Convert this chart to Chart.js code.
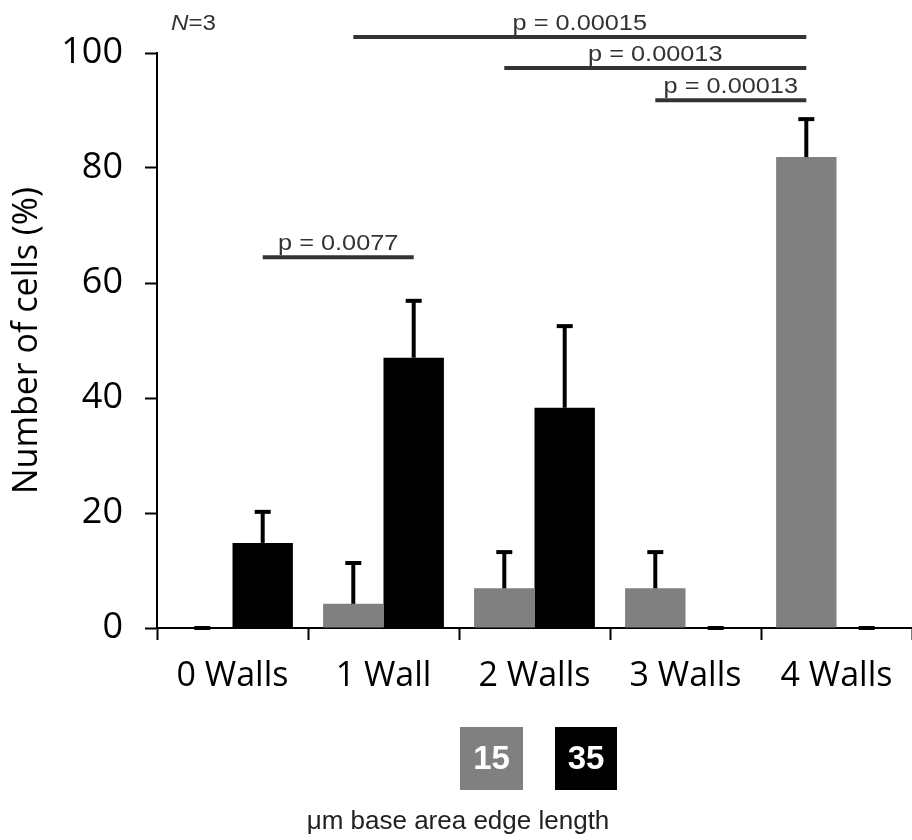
<!DOCTYPE html>
<html>
<head>
<meta charset="utf-8">
<script src="https://cdn.jsdelivr.net/npm/chart.js@4"></script>
<style>
  html, body { margin: 0; padding: 0; background: #fff; }
  #wrap { width: 912px; height: 840px; }
</style>
</head>
<body>
<div id="wrap"><canvas id="c" width="912" height="840"></canvas></div>
<script>
// ---- data ----
const categories = ['0 Walls', '1 Wall', '2 Walls', '3 Walls', '4 Walls'];
const seriesNames = ['15', '35'];
const gray15 = [0, 4.2, 6.9, 6.9, 81.9];
const gray15Err = [0, 7.1, 6.3, 6.3, 6.6];
const black35 = [14.8, 47.0, 38.3, 0, 0];
const black35Err = [5.4, 9.9, 14.2, 0, 0];
const yTicks = [0, 20, 40, 60, 80, 100];
const yTitle = 'Number of cells (%)';
const legendTitle = 'μm base area edge length';
const sampleNote = ['N', '=3'];
// significance brackets: [series, category] start -> end, level in % units, label
const sigLabels = ['p = 0.0077', 'p = 0.00015', 'p = 0.00013', 'p = 0.00013'];
const sigStart = [[1, 0], [0, 1], [0, 2], [0, 3]];
const sigEnd = [[1, 1], [0, 4], [0, 4], [0, 4]];
const sigLevel = [64.5, 102.8, 97.4, 91.8];

const seriesVals = [gray15, black35];
const seriesErrs = [gray15Err, black35Err];
const seriesColors = ['#808080', '#000000'];

const errorBars = {
  id: 'errorBars',
  afterDatasetsDraw(chart) {
    const ctx = chart.ctx, y = chart.scales.y;
    ctx.save();
    ctx.strokeStyle = '#000';
    ctx.lineWidth = 4;
    ctx.lineCap = 'butt';
    seriesVals.forEach((vals, di) => {
      const meta = chart.getDatasetMeta(di);
      meta.data.forEach((bar, i) => {
        const base = y.getPixelForValue(vals[i]);
        const top = y.getPixelForValue(vals[i] + seriesErrs[di][i]);
        if (top < base) {
          ctx.beginPath(); ctx.moveTo(bar.x, base); ctx.lineTo(bar.x, top); ctx.stroke();
        }
        ctx.beginPath(); ctx.moveTo(bar.x - 8, top); ctx.lineTo(bar.x + 8, top); ctx.stroke();
      });
    });
    ctx.restore();
  }
};

function stretchedText(ctx, txt, x, y, sx) {
  ctx.save();
  ctx.translate(x, y);
  ctx.scale(sx, 1);
  ctx.fillText(txt, 0, 0);
  ctx.restore();
}

const sigPlugin = {
  id: 'sigBrackets',
  afterDraw(chart) {
    const ctx = chart.ctx, y = chart.scales.y;
    ctx.save();
    ctx.strokeStyle = '#333';
    ctx.fillStyle = '#333';
    ctx.lineWidth = 4;
    ctx.font = '22px "Liberation Sans", Arial, sans-serif';
    ctx.textAlign = 'center';
    ctx.textBaseline = 'alphabetic';
    sigLabels.forEach((lab, k) => {
      const a = chart.getDatasetMeta(sigStart[k][0]).data[sigStart[k][1]];
      const b = chart.getDatasetMeta(sigEnd[k][0]).data[sigEnd[k][1]];
      const py = y.getPixelForValue(sigLevel[k]);
      ctx.beginPath(); ctx.moveTo(a.x, py); ctx.lineTo(b.x, py); ctx.stroke();
      stretchedText(ctx, lab, (a.x + b.x) / 2, py - 7, 1.15);
    });
    // N=3 note
    ctx.textAlign = 'left';
    ctx.font = 'italic 22px "Liberation Sans", Arial, sans-serif';
    const w = ctx.measureText(sampleNote[0]).width * 1.1;
    stretchedText(ctx, sampleNote[0], 171, 30, 1.1);
    ctx.font = '22px "Liberation Sans", Arial, sans-serif';
    stretchedText(ctx, sampleNote[1], 171 + w, 30, 1.1);
    ctx.restore();
  }
};

const legendPlugin = {
  id: 'boxLegend',
  afterDraw(chart) {
    const ctx = chart.ctx;
    ctx.save();
    const boxes = [[460, 727, 63, 63], [555, 727, 62, 63]];
    seriesNames.forEach((name, i) => {
      const [bx, by, bw, bh] = boxes[i];
      ctx.fillStyle = seriesColors[i];
      ctx.fillRect(bx, by, bw, bh);
      ctx.fillStyle = '#fff';
      ctx.font = 'bold 33px "Liberation Sans", Arial, sans-serif';
      ctx.textAlign = 'center';
      ctx.textBaseline = 'middle';
      ctx.fillText(name, bx + bw / 2, by + bh / 2 + 1);
    });
    ctx.fillStyle = '#222';
    ctx.font = '26px "Liberation Sans", Arial, sans-serif';
    ctx.textAlign = 'center';
    ctx.textBaseline = 'alphabetic';
    ctx.fillText(legendTitle, 458, 829);
    ctx.restore();
  }
};

new Chart(document.getElementById('c'), {
  type: 'bar',
  data: {
    labels: categories,
    datasets: seriesNames.map((n, i) => ({
      label: n,
      data: seriesVals[i],
      backgroundColor: seriesColors[i],
      borderWidth: 0,
      categoryPercentage: 0.8,
      barPercentage: 1.0
    }))
  },
  options: {
    responsive: false,
    devicePixelRatio: 1,
    animation: false,
    layout: { padding: { top: 53, right: 0, bottom: 0, left: 0 } },
    plugins: {
      legend: { display: false },
      tooltip: { enabled: false }
    },
    scales: {
      x: {
        offset: true,
        grid: { display: true, drawOnChartArea: false, offset: true, tickLength: 12, tickWidth: 2, tickColor: '#000' },
        border: { display: true, color: '#000', width: 2 },
        ticks: { color: '#000', font: { family: '"Open Sans", sans-serif', size: 34 }, padding: 16 },
        afterFit(s) { s.height = 212; }
      },
      y: {
        min: 0, max: 100,
        afterBuildTicks(s) { s.ticks = yTicks.map(v => ({ value: v })); },
        grid: { display: true, drawOnChartArea: false, tickLength: 12, tickWidth: 2, tickColor: '#000' },
        border: { display: true, color: '#000', width: 2 },
        ticks: { color: '#000', font: { family: '"Open Sans", sans-serif', size: 36 }, padding: 22 },
        title: { display: true, text: yTitle, color: '#000', font: { family: '"Open Sans", sans-serif', size: 34 }, padding: { top: 7, bottom: 0 } },
        afterFit(s) { s.width = 157; }
      }
    }
  },
  plugins: [errorBars, sigPlugin, legendPlugin]
});
</script>
</body>
</html>
